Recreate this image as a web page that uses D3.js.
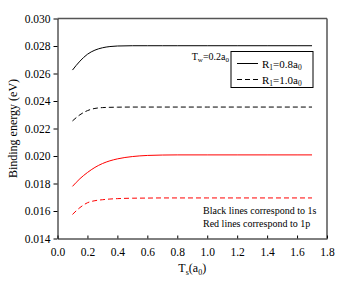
<!DOCTYPE html>
<html>
<head>
<meta charset="utf-8">
<script src="https://cdn.jsdelivr.net/npm/d3@7"></script>
<style>
    body { margin: 0; background: #fff; }
    svg text { font-family: "Liberation Serif", "Times New Roman", serif; fill: #000; }
</style>
</head>
<body>
<svg id="chart" width="346" height="281"></svg>
<script>
(function () {

    // thickness of the side barrier, a0 (x axis)
    var ts = [0.1, 0.15, 0.2, 0.25, 0.3, 0.35, 0.4, 0.5, 0.6, 0.7, 0.8, 1.0, 1.2, 1.4, 1.6, 1.7];

    // binding energies, eV
    var black08 = [0.02625, 0.02690, 0.02740, 0.02770, 0.02787, 0.02796, 0.02800, 0.02802, 0.02802, 0.02802, 0.02802, 0.02802, 0.02802, 0.02802, 0.02802, 0.02802];
    var black10 = [0.02255, 0.02300, 0.02330, 0.02346, 0.02352, 0.02354, 0.02355, 0.02356, 0.02356, 0.02356, 0.02356, 0.02356, 0.02356, 0.02356, 0.02356, 0.02356];
    var red08 = [0.01779, 0.01835, 0.01880, 0.01917, 0.01945, 0.01965, 0.01979, 0.01996, 0.02004, 0.02007, 0.02008, 0.02008, 0.02008, 0.02008, 0.02008, 0.02008];
    var red10 = [0.01575, 0.01625, 0.01660, 0.01675, 0.01682, 0.01687, 0.01690, 0.01693, 0.01694, 0.01695, 0.01695, 0.01695, 0.01695, 0.01695, 0.01695, 0.01695];

    var xTicks = [0.0, 0.2, 0.4, 0.6, 0.8, 1.0, 1.2, 1.4, 1.6, 1.8];
    var yTicks = [0.014, 0.016, 0.018, 0.020, 0.022, 0.024, 0.026, 0.028, 0.030];

    var series = [
        { values: black08, color: '#000', dash: null },
        { values: black10, color: '#000', dash: '5,3' },
        { values: red08, color: '#ff0000', dash: null },
        { values: red10, color: '#ff0000', dash: '5,3' }
    ];

    var legend = [
        { label: '=0.8a', dash: null },
        { label: '=1.0a', dash: '5,3' }
    ];

    var svg = d3.select('#chart'),
        left = 57.5, right = 327, top = 18.5, bottom = 238.5;

    var x = d3.scaleLinear().domain([0, 1.8]).range([left, right]),
        y = d3.scaleLinear().domain([0.014, 0.030]).range([bottom, top]);

    // frame: top and right are lighter in the reference
    svg.append('line')
        .attr('x1', left).attr('x2', right).attr('y1', top).attr('y2', top)
        .attr('stroke', '#555').attr('stroke-width', 1.5);
    svg.append('line')
        .attr('x1', right).attr('x2', right).attr('y1', top).attr('y2', bottom)
        .attr('stroke', '#555').attr('stroke-width', 1.5);

    var xAxis = svg.append('g')
        .attr('transform', 'translate(0,' + bottom + ')')
        .call(d3.axisBottom(x).tickValues(xTicks).tickSizeInner(-3).tickSizeOuter(0).tickPadding(9)
            .tickFormat(d3.format('.1f')));

    var yAxis = svg.append('g')
        .attr('transform', 'translate(' + left + ',0)')
        .call(d3.axisLeft(y).tickValues(yTicks).tickSizeInner(4).tickSizeOuter(0).tickPadding(3)
            .tickFormat(d3.format('.3f')));

    [xAxis, yAxis].forEach(function ($axis) {
        $axis.attr('font-family', null);
        $axis.select('.domain').attr('stroke', '#000');
        $axis.selectAll('.tick line').attr('stroke', '#000');
        $axis.selectAll('.tick text')
            .style('font-family', '"Liberation Serif", serif')
            .style('font-size', '11.5px');
    });

    var line = d3.line()
        .x(function (d, i) { return x(ts[i]); })
        .y(function (d) { return y(d); })
        .curve(d3.curveMonotoneX);

    series.forEach(function (s) {
        svg.append('path')
            .attr('d', line(s.values))
            .attr('fill', 'none')
            .attr('stroke', s.color)
            .attr('stroke-width', 1)
            .attr('stroke-dasharray', s.dash);
    });

    // axis titles
    svg.append('text')
        .attr('transform', 'translate(17,' + ((top + bottom) / 2) + ') rotate(-90)')
        .attr('text-anchor', 'middle')
        .style('font-size', '12px')
        .text('Binding energy (eV)');

    var xt = svg.append('text')
        .attr('x', (left + right) / 2)
        .attr('y', 272)
        .attr('text-anchor', 'middle')
        .style('font-size', '12px');
    xt.append('tspan').text('T');
    xt.append('tspan').attr('dy', 3).style('font-size', '8px').text('s');
    xt.append('tspan').attr('dy', -3).text('(a');
    xt.append('tspan').attr('dy', 3).style('font-size', '8px').text('0');
    xt.append('tspan').attr('dy', -3).text(')');

    // Tw note, right-aligned against the legend box
    var tw = svg.append('text')
        .attr('x', 229).attr('y', 60)
        .attr('text-anchor', 'end')
        .style('font-size', '10px');
    tw.append('tspan').text('T');
    tw.append('tspan').attr('dy', 2).style('font-size', '7px').text('w');
    tw.append('tspan').attr('dy', -2).text('=0.2a');
    tw.append('tspan').attr('dy', 2).style('font-size', '7px').text('0');

    // legend box
    svg.append('rect')
        .attr('x', 231).attr('y', 51.5).attr('width', 82).attr('height', 36)
        .attr('fill', '#fff').attr('stroke', '#000').attr('stroke-width', 1);

    legend.forEach(function (l, i) {
        var ly = 63.5 + i * 16;
        svg.append('line')
            .attr('x1', 237).attr('x2', 258).attr('y1', ly).attr('y2', ly)
            .attr('stroke', '#000').attr('stroke-dasharray', l.dash);
        var t = svg.append('text')
            .attr('x', 262).attr('y', ly + 4)
            .style('font-size', '11px');
        t.append('tspan').text('R');
        t.append('tspan').attr('dy', 2).style('font-size', '7.5px').text('1');
        t.append('tspan').attr('dy', -2).text(l.label);
        t.append('tspan').attr('dy', 2).style('font-size', '7.5px').text('0');
    });

    // note
    svg.append('text')
        .attr('x', 203).attr('y', 214)
        .style('font-size', '10px')
        .text('Black lines correspond to 1s');
    svg.append('text')
        .attr('x', 203).attr('y', 226.5)
        .style('font-size', '10px')
        .text('Red lines correspond to 1p');

})();
</script>
</body>
</html>
